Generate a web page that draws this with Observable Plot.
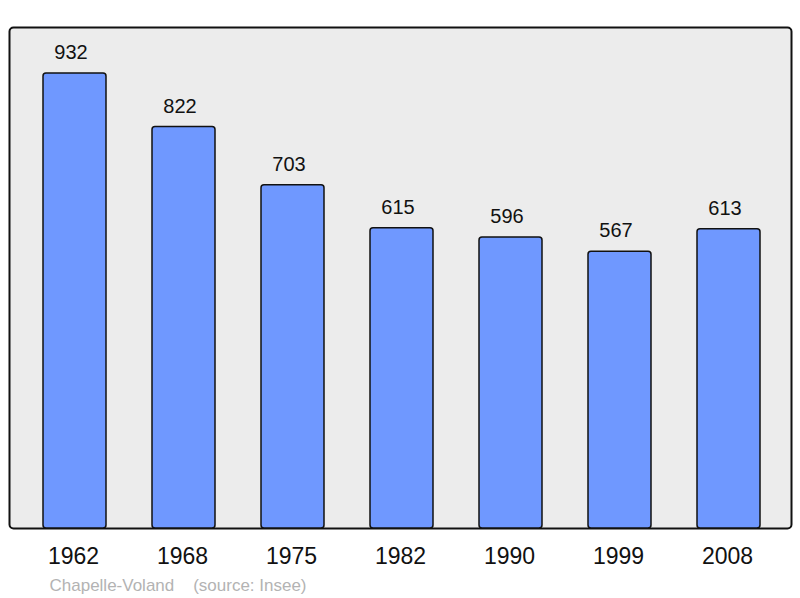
<!DOCTYPE html>
<html>
<head>
<meta charset="utf-8">
<script src="https://cdn.jsdelivr.net/npm/d3@7"></script>
<script src="https://cdn.jsdelivr.net/npm/@observablehq/plot@0.6"></script>
<style>
  html, body { margin: 0; padding: 0; background: #ffffff; }
  svg { font-family: "Liberation Sans", Arial, sans-serif; }
</style>
</head>
<body>
<div id="chart"></div>
<script>
const years = ["1962", "1968", "1975", "1982", "1990", "1999", "2008"];
const population = [932, 822, 703, 615, 596, 567, 613];
const caption = "Chapelle-Voland    (source: Insee)";

const data = years.map((y, i) => ({year: y, value: population[i]}));

const chart = Plot.plot({
  width: 800,
  height: 598,
  marginLeft: 9,
  marginRight: 9,
  marginTop: 27,
  marginBottom: 70,
  style: {fontFamily: "'Liberation Sans', Arial, sans-serif", background: "#ffffff", overflow: "visible"},
  x: {domain: years, range: [42, 762], paddingInner: 0.42, paddingOuter: 0, axis: null},
  y: {domain: [0, 1026], axis: null},
  marks: [
    Plot.frame({fill: "#ececec", stroke: "#111111", strokeWidth: 2, rx: 4}),
    Plot.barY(data, {x: "year", y: "value", fill: "#6f98ff", stroke: "#111111", strokeWidth: 1.5, rx: 3}),
    Plot.text(data, {x: "year", y: "value", text: d => String(d.value), dy: -21, dx: -4, fontSize: 20, fill: "#111111"}),
    Plot.text(data, {x: "year", text: "year", frameAnchor: "bottom", dy: 35, dx: -1.5, fontSize: 23, fill: "#111111"}),
    Plot.text([caption], {text: d => d, frameAnchor: "bottom-left", dx: 40, dy: 62, textAnchor: "start", fontSize: 17, fill: "#b3b3b3"})
  ]
});
document.getElementById("chart").appendChild(chart);
</script>
</body>
</html>
